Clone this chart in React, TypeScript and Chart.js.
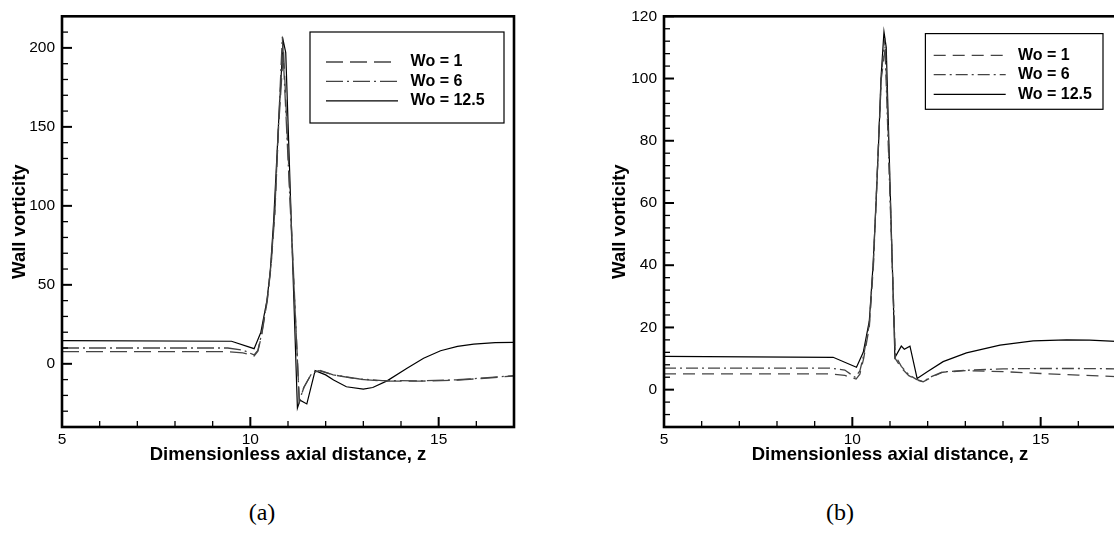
import React, { useEffect, useRef } from 'react';
import { Chart, registerables } from 'chart.js';

Chart.register(...registerables);

// ---------- shared text ----------
const seriesLabels = ['Wo = 1', 'Wo = 6', 'Wo = 12.5'];
const xTitle = 'Dimensionless axial distance, z';
const yTitle = 'Wall vorticity';
const captions = ['(a)', '(b)'];
const xMajorLabels = [5, 10, 15];

// ---------- panel (a) ----------
const aZ1 = [5, 9.4, 9.8, 10.1, 10.2, 10.3, 10.45, 10.55, 10.65, 10.75, 10.88, 11.3, 11.42, 11.63, 11.82, 12.2, 12.9, 13.5, 14.5, 15.5, 16.3, 17];
const aW1 = [7.7, 7.7, 6.9, 5.0, 8, 18, 40, 62, 95, 150, 199, -24, -15, -6, -4.3, -7, -9.8, -10.9, -11, -10.3, -9, -7.7];
const aZ6 = [5, 9.4, 9.8, 10.1, 10.2, 10.3, 10.45, 10.55, 10.65, 10.75, 10.85, 11.3, 11.42, 11.63, 11.82, 12.2, 12.9, 13.5, 14.5, 15.5, 16.3, 17];
const aW6 = [10, 10, 8.7, 5.6, 8.5, 19, 41, 63, 97, 152, 207, -23.5, -15, -6, -4.0, -7, -9.6, -10.6, -10.8, -10.1, -8.8, -7.5];
const aZ12 = [5, 9.5, 10.1, 10.28, 10.44, 10.53, 10.62, 10.74, 10.87, 10.94, 11.25, 11.32, 11.5, 11.72, 12.0, 12.21, 12.55, 13.0, 13.25, 13.63, 14.16, 14.6, 15.05, 15.5, 15.93, 16.5, 17];
const aW12 = [14.7, 14.3, 9.6, 20, 40, 59, 91, 148, 205, 197, -28, -23, -25.4, -4.3, -7, -10.2, -14.5, -16, -15, -10.8, -2.8, 3.5, 8.3, 11, 12.5, 13.4, 13.6];

// ---------- panel (b) ----------
const bZ1 = [5, 9.4, 9.8, 10.1, 10.2, 10.3, 10.45, 10.56, 10.63, 10.7, 10.77, 10.88, 11.14, 11.3, 11.5, 11.7, 11.88, 12.1, 12.4, 13.0, 14.0, 15.0, 16.0, 17];
const bW1 = [5.1, 5.1, 4.6, 3.4, 5, 10, 20, 40, 60, 80, 100, 110.5, 10, 7, 4.5, 3.2, 2.5, 4, 5.6, 6.1, 5.8, 5.2, 4.7, 4.2];
const bZ6 = [5, 9.4, 9.8, 10.07, 10.2, 10.3, 10.45, 10.56, 10.63, 10.7, 10.77, 10.86, 11.14, 11.3, 11.5, 11.7, 11.88, 12.1, 12.4, 13.0, 14.0, 15.0, 16.0, 17];
const bW6 = [6.9, 6.9, 6.3, 4.0, 6, 11, 21, 41, 61, 81, 101, 113, 11, 7.5, 4.8, 3.3, 2.6, 4.2, 5.7, 6.2, 6.7, 6.8, 6.8, 6.7];
const bZ12 = [5, 9.49, 10.11, 10.29, 10.45, 10.55, 10.63, 10.7, 10.76, 10.84, 10.9, 11.13, 11.3, 11.38, 11.53, 11.72, 12.0, 12.41, 13.03, 13.92, 14.8, 15.69, 16.3, 17];
const bW12 = [10.7, 10.4, 7.2, 12, 22, 40, 60, 80, 100, 115, 110, 10.3, 14, 13, 14, 3.6, 5.8, 9.0, 11.8, 14.3, 15.7, 16.0, 15.9, 15.5];

const pts = (z: number[], w: number[]) => z.map((v, i) => ({ x: v, y: w[i] }));

const SANS = "'Liberation Sans', Arial, Helvetica, sans-serif";

const framePlugin = {
  id: 'frame',
  afterDraw(chart: any, _args: any, opts: any) {
    const { ctx, chartArea: a, scales } = chart;
    const xs = scales.x;
    const ys = scales.y;
    ctx.save();
    ctx.strokeStyle = '#000';
    // inward tick marks
    xs.ticks.forEach((t: any) => {
      const px = xs.getPixelForValue(t.value);
      const major = Math.abs(t.value % opts.xMajor) < 1e-9;
      ctx.lineWidth = major ? 2 : 1.3;
      ctx.beginPath();
      ctx.moveTo(px, a.bottom);
      ctx.lineTo(px, a.bottom - (major ? 10 : 6));
      ctx.stroke();
    });
    ys.ticks.forEach((t: any) => {
      const py = ys.getPixelForValue(t.value);
      const major = Math.abs(t.value % opts.yMajor) < 1e-9;
      ctx.lineWidth = major ? 2 : 1.3;
      ctx.beginPath();
      ctx.moveTo(a.left, py);
      ctx.lineTo(a.left + (major ? 10 : 6), py);
      ctx.stroke();
    });
    // frame
    ctx.lineWidth = 2.6;
    ctx.strokeRect(a.left, a.top, a.right - a.left, a.bottom - a.top);
    // legend
    const lg = opts.legend;
    const bx = a.left + lg.dx;
    const by = a.top + lg.dy;
    ctx.fillStyle = '#fff';
    ctx.fillRect(bx, by, lg.w, lg.h);
    ctx.lineWidth = 1.2;
    ctx.strokeStyle = '#000';
    ctx.strokeRect(bx, by, lg.w, lg.h);
    chart.data.datasets.forEach((ds: any, i: number) => {
      const ry = by + lg.rows[i];
      ctx.save();
      ctx.strokeStyle = ds.borderColor;
      ctx.lineWidth = ds.borderWidth;
      ctx.setLineDash(ds.borderDash || []);
      ctx.beginPath();
      ctx.moveTo(bx + lg.lineX, ry);
      ctx.lineTo(bx + lg.lineX + lg.lineLen, ry);
      ctx.stroke();
      ctx.restore();
      ctx.fillStyle = '#000';
      ctx.font = `bold 16px ${SANS}`;
      ctx.textBaseline = 'middle';
      ctx.textAlign = 'left';
      ctx.fillText(ds.label, bx + lg.textX, ry);
    });
    ctx.restore();
  },
};

type PanelDef = {
  left: number;
  width: number;
  padRight: number;
  yAxisWidth: number;
  yTitlePad: number;
  yMin: number;
  yMax: number;
  yStep: number;
  yMajor: number;
  series: { z: number[]; w: number[] }[];
  dashes: number[][];
  legend: any;
};

const panels: PanelDef[] = [
  {
    left: 0,
    width: 530,
    padRight: 16,
    yAxisWidth: 62,
    yTitlePad: 8.4,
    yMin: -40,
    yMax: 220,
    yStep: 10,
    yMajor: 50,
    series: [
      { z: aZ1, w: aW1 },
      { z: aZ6, w: aW6 },
      { z: aZ12, w: aW12 },
    ],
    dashes: [[17, 7], [17, 4, 2, 4], []],
    legend: { dx: 248, dy: 15.7, w: 194, h: 91, lineX: 16, lineLen: 72, textX: 100.6, rows: [30, 49.3, 68.8] },
  },
  {
    left: 600,
    width: 530,
    padRight: 14,
    yAxisWidth: 64,
    yTitlePad: 9.1,
    yMin: -12,
    yMax: 120,
    yStep: 4,
    yMajor: 20,
    series: [
      { z: bZ1, w: bW1 },
      { z: bZ6, w: bW6 },
      { z: bZ12, w: bW12 },
    ],
    dashes: [[12, 7], [12, 4, 2, 4], []],
    legend: { dx: 261.4, dy: 17.3, w: 177.6, h: 75.7, lineX: 8.3, lineLen: 72, textX: 92.6, rows: [21.7, 41, 60.7] },
  },
];

const CANVAS_H = 480;

function Panel({ p }: { p: PanelDef }) {
  const ref = useRef<HTMLCanvasElement>(null);
  useEffect(() => {
    if (!ref.current) return;
    const colors = ['#444', '#444', '#000'];
    const widths = [1.3, 1.3, 1.2];
    const chart = new Chart(ref.current, {
      type: 'line',
      data: {
        datasets: p.series.map((s, i) => ({
          label: seriesLabels[i],
          data: pts(s.z, s.w),
          borderColor: colors[i],
          borderWidth: widths[i],
          borderDash: p.dashes[i],
          pointRadius: 0,
          fill: false,
          tension: 0,
        })),
      },
      options: {
        animation: false,
        responsive: false,
        maintainAspectRatio: false,
        layout: { padding: { top: 16, right: p.padRight, bottom: 0, left: 0 } },
        plugins: {
          legend: { display: false },
          tooltip: { enabled: false },
          frame: { xMajor: 5, yMajor: p.yMajor, legend: p.legend },
        } as any,
        scales: {
          x: {
            type: 'linear',
            min: 5,
            max: 17,
            grid: { display: false, drawTicks: false },
            border: { display: false },
            ticks: {
              stepSize: 1,
              autoSkip: false,
              maxRotation: 0,
              maxTicksLimit: 1000,
              padding: 3,
              color: '#000',
              font: { family: SANS, size: 15.5 },
              callback: (v: any) => (xMajorLabels.includes(Number(v)) ? String(v) : ''),
            },
            title: {
              display: true,
              text: xTitle,
              color: '#000',
              font: { family: SANS, size: 18.5, weight: 'bold' },
              padding: { top: 0, bottom: 13.9 },
            },
            afterFit: (s: any) => {
              s.height = 53;
            },
          },
          y: {
            type: 'linear',
            min: p.yMin,
            max: p.yMax,
            grid: { display: false, drawTicks: false },
            border: { display: false },
            ticks: {
              stepSize: p.yStep,
              autoSkip: false,
              maxTicksLimit: 1000,
              padding: 7,
              color: '#000',
              font: { family: SANS, size: 15.5 },
              callback: (v: any) => (Math.abs(Number(v) % p.yMajor) < 1e-9 ? String(v) : ''),
            },
            title: {
              display: true,
              text: yTitle,
              color: '#000',
              font: { family: SANS, size: 18.5, weight: 'bold' },
              padding: { top: p.yTitlePad, bottom: 0 },
            },
            afterFit: (s: any) => {
              s.width = p.yAxisWidth;
            },
          },
        } as any,
      },
      plugins: [framePlugin as any],
    });
    return () => chart.destroy();
  }, [p]);
  return (
    <canvas
      ref={ref}
      width={p.width}
      height={CANVAS_H}
      style={{ position: 'absolute', left: p.left, top: 0, width: p.width, height: CANVAS_H }}
    />
  );
}

const captionCenters = [262, 840];

export default function App() {
  return (
    <div
      style={{
        position: 'absolute',
        left: 0,
        top: 0,
        width: 1114,
        height: 535,
        overflow: 'hidden',
        background: '#fff',
      }}
    >
      {panels.map((p, i) => (
        <Panel key={i} p={p} />
      ))}
      {captions.map((c, i) => (
        <div
          key={c}
          style={{
            position: 'absolute',
            left: captionCenters[i] - 50,
            width: 100,
            top: 497,
            lineHeight: '30px',
            textAlign: 'center',
            fontFamily: "'Liberation Serif', 'DejaVu Serif', serif",
            fontSize: 24,
            color: '#000',
          }}
        >
          {c}
        </div>
      ))}
    </div>
  );
}
